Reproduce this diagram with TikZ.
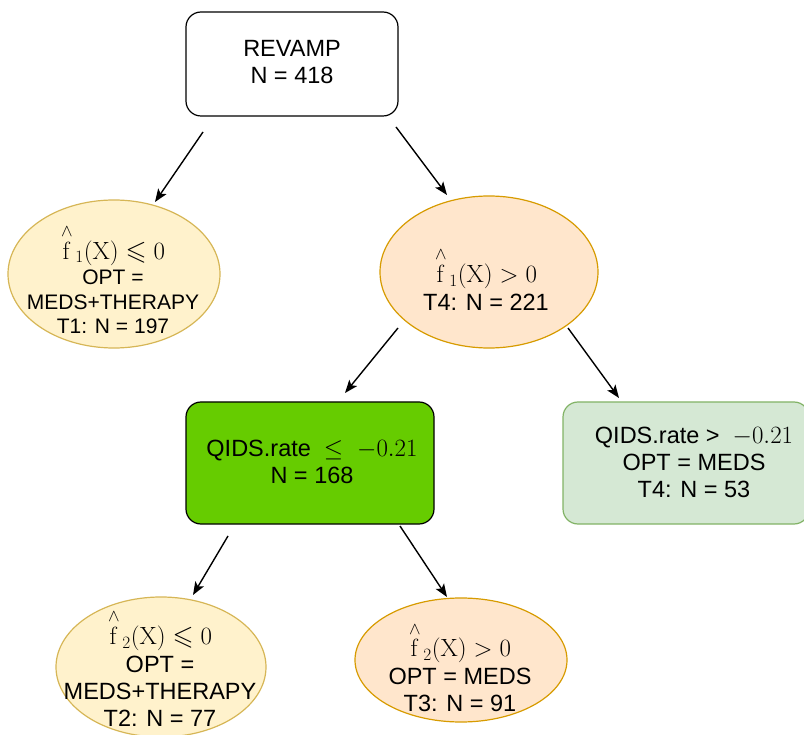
\documentclass[tikz,border=0pt]{standalone}
\usepackage{amssymb,amsmath}
\usepackage[no-math]{fontspec}
\setmainfont{Liberation Sans}
\usetikzlibrary{shapes.geometric,arrows.meta}
\definecolor{yelfill}{HTML}{FFF2CC}
\definecolor{yeldraw}{HTML}{D6B656}
\definecolor{orafill}{HTML}{FFE6CC}
\definecolor{oradraw}{HTML}{D79B00}
\definecolor{grnfill}{HTML}{66CC00}
\definecolor{lgfill}{HTML}{D5E8D4}
\definecolor{lgdraw}{HTML}{82B366}
\tikzset{
  txt/.style={align=center,font=\fontsize{23.5}{27}\selectfont,inner sep=0pt},
  smalltxt/.style={align=center,font=\fontsize{21}{24.5}\selectfont,inner sep=0pt},
  rbox/.style={draw,rounded corners=15pt,line width=1.2pt,minimum width=#1,inner sep=0pt},
  yell/.style={ellipse,draw=yeldraw,fill=yelfill,line width=1.2pt,inner sep=0pt},
  oell/.style={ellipse,draw=oradraw,fill=orafill,line width=1.2pt,inner sep=0pt},
  conn/.style={-{Stealth[length=13pt,width=10pt,inset=3pt]},line width=1.4pt}
}
\newcommand{\mth}[1]{{\fontsize{25}{25}\selectfont$#1$}}
\newcommand{\fmth}[1]{{\fontsize{27}{25}\selectfont$#1$}}
\newcommand{\fh}[1]{\overset{\wedge}{\mathrm{f}}_{\,#1}(\mathrm{X})}
\begin{document}
\begin{tikzpicture}[x=1pt,y=-1pt]
\useasboundingbox (0,0) rectangle (804,735);
% shapes
\node[rbox=212pt,fill=white,minimum height=104pt] (root) at (292,64) {};
\node[yell,minimum width=212pt,minimum height=148pt] (t1) at (114,274) {};
\node[oell,minimum width=218pt,minimum height=152pt] (t4) at (489,272) {};
\node[rbox=248pt,fill=grnfill,minimum height=122pt] (q1) at (310,463) {};
\node[rbox=246pt,draw=lgdraw,fill=lgfill,minimum height=122pt] (q2) at (686,463) {};
\node[yell,minimum width=210pt,minimum height=140pt] (t2) at (161,667) {};
\node[oell,minimum width=212pt,minimum height=124pt] (t3) at (461,660) {};
% texts
\node[txt] (root-t) at (292,62) {REVAMP\\N = 418};
\node[smalltxt] (t1-t) at (113,279) {\fmth{\fh{1} \leqslant 0}\\[1pt]OPT =\\MEDS+THERAPY\\T1: N = 197};
\node[txt] (t4-t) at (486,279) {\fmth{\fh{1} > 0}\\[1pt]T4: N = 221};
\node[txt] (q1-t) at (312,462) {QIDS.rate \ \mth{\leq\ -0.21}\\N = 168};
\node[txt] (q2-t) at (694,462) {QIDS.rate > \ \mth{-0.21}\\OPT = MEDS\\T4: N = 53};
\node[txt] (t2-t) at (160,668) {\fmth{\fh{2} \leqslant 0}\\[1pt]OPT =\\MEDS+THERAPY\\T2: N = 77};
\node[txt] (t3-t) at (460,667) {\fmth{\fh{2} > 0}\\[1pt]OPT = MEDS\\T3: N = 91};
% connector end points
\coordinate (a1) at (203,132); \coordinate (b1) at (155,202);
\coordinate (a2) at (396,127); \coordinate (b2) at (447,195);
\coordinate (a3) at (398,328); \coordinate (b3) at (345,393);
\coordinate (a4) at (568,328); \coordinate (b4) at (619,398);
\coordinate (a5) at (228,536); \coordinate (b5) at (193,595);
\coordinate (a6) at (400,526); \coordinate (b6) at (447,597);
\draw[conn] (a1) -- (b1);
\draw[conn] (a2) -- (b2);
\draw[conn] (a3) -- (b3);
\draw[conn] (a4) -- (b4);
\draw[conn] (a5) -- (b5);
\draw[conn] (a6) -- (b6);
\end{tikzpicture}
\end{document}
